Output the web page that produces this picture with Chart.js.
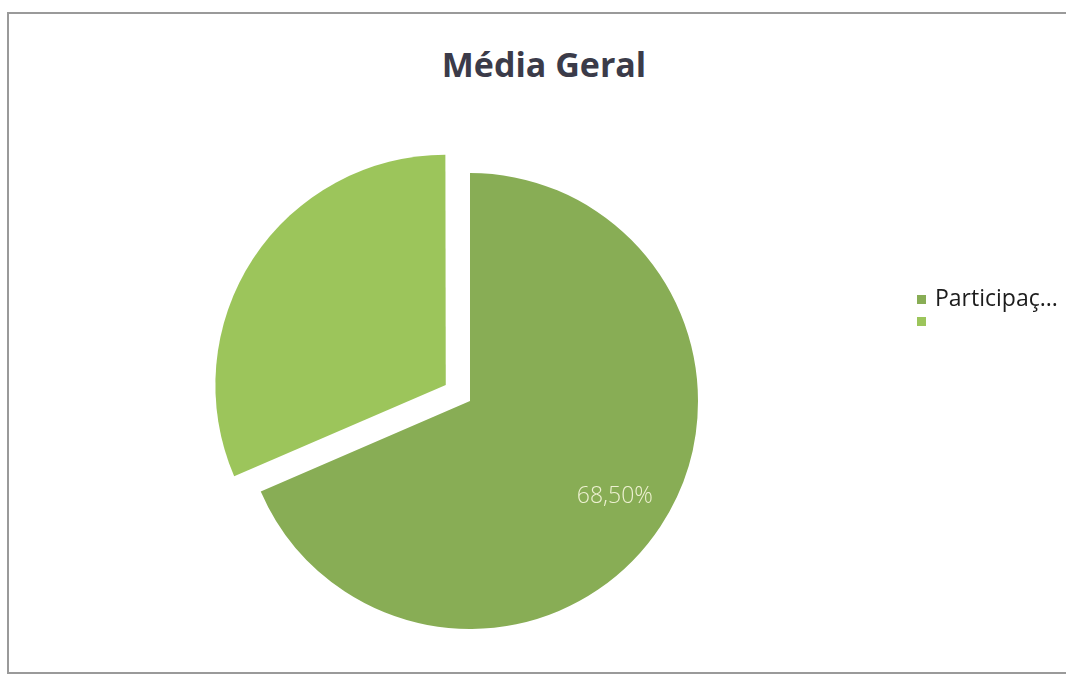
<!DOCTYPE html>
<html lang="pt">
<head>
<meta charset="utf-8">
<title>Média Geral</title>
<script src="https://cdn.jsdelivr.net/npm/chart.js@4.4.1/dist/chart.umd.min.js"></script>
<style>
    html, body { margin: 0; padding: 0; background: #fff; }
    body { width: 1066px; height: 677px; position: relative; overflow: hidden; font-family: 'Open Sans', 'Noto Sans', sans-serif; }
    #frame { position: absolute; left: 7px; top: 12px; width: 1080px; height: 662px; border: 2px solid #9a9a9a; box-sizing: border-box; }
    #title { position: absolute; left: 0; top: 40px; width: 1088px; text-align: center; font-size: 34px; font-weight: 700; color: #3b3b49; line-height: 48px; }
    #chart-wrap { position: absolute; left: 0; top: 0; width: 1066px; height: 677px; }
    #legend { position: absolute; left: 917px; top: 286px; margin: 0; padding: 0; list-style: none; font-size: 23px; color: #1c1c1c; }
    #legend li { height: 22px; line-height: 22px; white-space: nowrap; }
    #legend .box { display: inline-block; width: 9px; height: 9px; margin-right: 9px; vertical-align: 2px; }
</style>
</head>
<body>
<div id="frame"></div>
<div id="title">Média Geral</div>
<div id="chart-wrap"><canvas id="pie-chart"></canvas></div>
<ul id="legend"></ul>

<script>
// dados
const categories = ['Participação', ''];
const values = [68.5, 31.5];
const showValue = [true, false];
const sliceColors = ['#88ad55', '#9cc55b'];
const sliceOffsets = [0, 116]; // o Chart.js desloca offset/4 px

function formatPercent(v) {
    return v.toFixed(2).replace('.', ',') + '%';
}

// rótulo de valor dentro da fatia (sem plugin datalabels offline)
const sliceLabels = {
    id: 'sliceLabels',
    afterDatasetsDraw(chart) {
        const ctx = chart.ctx;
        const meta = chart.getDatasetMeta(0);
        ctx.save();
        ctx.font = '300 23px "Open Sans", "Noto Sans", sans-serif';
        ctx.fillStyle = '#eef1d2';
        ctx.textAlign = 'center';
        ctx.textBaseline = 'middle';
        meta.data.forEach((arc, i) => {
            if (!showValue[i]) return;
            const p = arc.getProps(['x', 'y', 'startAngle', 'endAngle', 'outerRadius'], true);
            const mid = (p.startAngle + p.endAngle) / 2;
            const r = p.outerRadius * 0.76;
            ctx.fillText(formatPercent(values[i]), p.x + Math.cos(mid) * r, p.y + Math.sin(mid) * r);
        });
        ctx.restore();
    }
};

const ctx = document.getElementById('pie-chart').getContext('2d');
const pieChart = new Chart(ctx, {
    type: 'pie',
    data: {
        labels: categories,
        datasets: [{
            label: 'Média Geral',
            data: values,
            backgroundColor: sliceColors,
            borderWidth: 0,
            offset: sliceOffsets,
            radius: 228
        }]
    },
    options: {
        responsive: true,
        maintainAspectRatio: false,
        animation: false,
        layout: {
            padding: { left: 0, right: 126, top: 125, bottom: 0 }
        },
        plugins: {
            legend: { display: false },
            tooltip: { enabled: false }
        }
    },
    plugins: [sliceLabels]
});

// legenda (o Excel corta o nome longo)
const legendEl = document.getElementById('legend');
categories.forEach((name, i) => {
    const li = document.createElement('li');
    const box = document.createElement('span');
    box.className = 'box';
    box.style.background = sliceColors[i];
    li.appendChild(box);
    li.appendChild(document.createTextNode(name.length > 10 ? name.substring(0, 10) + '...' : name));
    legendEl.appendChild(li);
});
</script>
</body>
</html>
